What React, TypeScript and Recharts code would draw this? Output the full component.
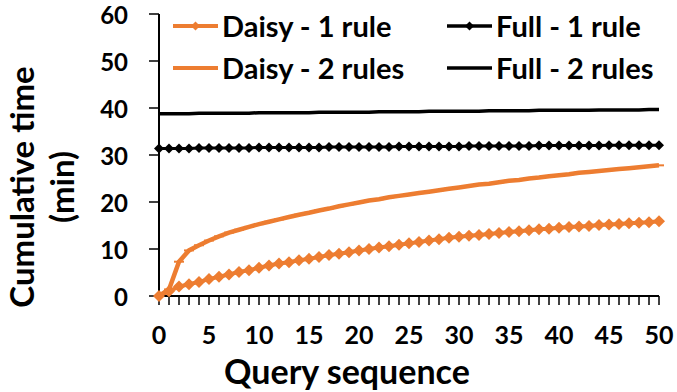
import { LineChart, Line, XAxis, YAxis, Label } from 'recharts'

const ORANGE = '#ED7D31'
const FONT = 'Lato, "Open Sans", sans-serif'

const queries = [
  0, 1, 2, 3, 4, 5, 6, 7, 8, 9, 10, 11, 12, 13, 14, 15, 16, 17, 18, 19, 20, 21, 22, 23, 24, 25,
  26, 27, 28, 29, 30, 31, 32, 33, 34, 35, 36, 37, 38, 39, 40, 41, 42, 43, 44, 45, 46, 47, 48, 49, 50
]

const daisy1 = [
  0, 1.0, 2.0, 2.5, 3.0, 3.6, 4.1, 4.6, 5.1, 5.5, 6.0, 6.5, 6.9, 7.2, 7.6, 7.9, 8.3, 8.7, 9.0, 9.3,
  9.7, 10.0, 10.3, 10.6, 10.9, 11.2, 11.5, 11.8, 12.1, 12.4, 12.6, 12.8, 13.0, 13.2, 13.4, 13.6,
  13.8, 14.0, 14.2, 14.3, 14.5, 14.7, 14.8, 14.9, 15.1, 15.2, 15.3, 15.5, 15.6, 15.7, 15.9
]

const daisy2 = [
  0, 1.4, 7.3, 9.7, 10.8, 11.8, 12.7, 13.5, 14.1, 14.7, 15.3, 15.8, 16.3, 16.8, 17.3, 17.7, 18.2,
  18.6, 19.1, 19.5, 19.9, 20.3, 20.6, 21.0, 21.3, 21.6, 21.9, 22.2, 22.5, 22.8, 23.1, 23.4, 23.7,
  23.9, 24.2, 24.5, 24.7, 25.0, 25.2, 25.5, 25.7, 25.9, 26.2, 26.4, 26.6, 26.8, 27.0, 27.2, 27.4,
  27.6, 27.8
]

const full1 = [
  31.4, 31.4, 31.4, 31.4, 31.5, 31.5, 31.5, 31.5, 31.5, 31.5, 31.6, 31.6, 31.6, 31.6, 31.6, 31.6,
  31.6, 31.7, 31.7, 31.7, 31.7, 31.7, 31.7, 31.7, 31.8, 31.8, 31.8, 31.8, 31.8, 31.8, 31.8, 31.9,
  31.9, 31.9, 31.9, 31.9, 31.9, 31.9, 32.0, 32.0, 32.0, 32.0, 32.0, 32.0, 32.0, 32.1, 32.1, 32.1,
  32.1, 32.1, 32.1
]

const full2 = [
  38.8, 38.8, 38.8, 38.8, 38.9, 38.9, 38.9, 38.9, 38.9, 38.9, 39.0, 39.0, 39.0, 39.0, 39.0, 39.0,
  39.1, 39.1, 39.1, 39.1, 39.1, 39.1, 39.2, 39.2, 39.2, 39.2, 39.2, 39.3, 39.3, 39.3, 39.3, 39.3,
  39.3, 39.4, 39.4, 39.4, 39.4, 39.4, 39.5, 39.5, 39.5, 39.5, 39.5, 39.5, 39.6, 39.6, 39.6, 39.6,
  39.6, 39.7, 39.7
]

const yTicks = [0, 10, 20, 30, 40, 50, 60]

const data = queries.map((q, i) => ({
  q,
  daisy1: daisy1[i],
  daisy2: daisy2[i],
  full1: full1[i],
  full2: full2[i]
}))

const legendItems = [
  { name: 'Daisy - 1 rule', color: ORANGE, marker: true },
  { name: 'Full - 1 rule', color: '#000', marker: true },
  { name: 'Daisy - 2 rules', color: ORANGE, marker: false },
  { name: 'Full - 2 rules', color: '#000', marker: false }
]

function diamond(size: number, color: string) {
  return (props: any) => {
    const { cx, cy, index } = props
    if (cx == null || cy == null) return <g key={index} />
    const s = size
    return (
      <polygon
        key={index}
        points={`${cx},${cy - s} ${cx + s},${cy} ${cx},${cy + s} ${cx - s},${cy}`}
        fill={color}
      />
    )
  }
}

function dashDot(props: any) {
  const { cx, cy, index } = props
  if (cx == null || cy == null) return <g key={index} />
  return <line key={index} x1={cx - 5} x2={cx + 5} y1={cy} y2={cy} stroke={ORANGE} strokeWidth={2} />
}

function XTick(props: any) {
  const { x, y, payload } = props
  if (payload.value % 5 !== 0) return <g />
  return (
    <text x={x} y={y} dy={33} textAnchor="middle" fontFamily={FONT} fontWeight={700} fontSize={25} fill="#000">
      {payload.value}
    </text>
  )
}

function YTick(props: any) {
  const { x, y, payload } = props
  return (
    <text x={x} y={y} dy={10} textAnchor="end" fontFamily={FONT} fontWeight={700} fontSize={24} fill="#000">
      {payload.value}
    </text>
  )
}

function YLabel(props: any) {
  const vb = props.viewBox
  const cy = vb.y + vb.height / 2 + 32
  return (
    <text transform="rotate(-90)" fontFamily={FONT} fontWeight={700} fontSize={33} fill="#000" textAnchor="middle">
      <tspan x={-cy} y={34}>Cumulative time</tspan>
      <tspan x={-cy} y={74}>(min)</tspan>
    </text>
  )
}

function LegendBox() {
  return (
    <div
      style={{
        position: 'absolute',
        left: 172,
        top: 9,
        display: 'grid',
        gridTemplateColumns: '274px 230px',
        rowGap: 8,
        fontFamily: FONT,
        fontWeight: 700,
        fontSize: 29,
        lineHeight: '34px'
      }}
    >
      {legendItems.map((it) => (
        <div key={it.name} style={{ display: 'flex', alignItems: 'center', height: 34, whiteSpace: 'nowrap' }}>
          <svg width={47} height={14} style={{ marginRight: 3 }}>
            <line x1={1} x2={46} y1={7} y2={7} stroke={it.color} strokeWidth={it.color === ORANGE ? 4 : 3.5} />
            {it.marker && <polygon points="23.5,2.5 28,7 23.5,11.5 19,7" fill={it.color} />}
          </svg>
          <span style={{ color: '#000' }}>{it.name}</span>
        </div>
      ))}
    </div>
  )
}

export default function App() {
  return (
    <div style={{ position: 'absolute', left: 0, top: 0, width: 677, height: 392, background: '#fff' }}>
      <LineChart width={677} height={392} data={data} margin={{ top: 14, right: 18, left: 0, bottom: 0 }}>
        <XAxis
          dataKey="q"
          type="number"
          domain={[0, 50]}
          ticks={queries}
          interval={0}
          tick={<XTick />}
          tickSize={9}
          tickMargin={6}
          height={96}
          axisLine={{ stroke: '#000', strokeWidth: 2 }}
          tickLine={{ stroke: '#000', strokeWidth: 1.5 }}
        >
          <Label
            value="Query sequence"
            position="insideBottom"
            offset={8}
            dx={-62}
            style={{ fontFamily: FONT, fontWeight: 700, fontSize: 34, fill: '#000' }}
          />
        </XAxis>
        <YAxis
          domain={[0, 60]}
          ticks={yTicks}
          interval={0}
          width={159}
          tickSize={10}
          tickMargin={21}
          axisLine={{ stroke: '#000', strokeWidth: 2 }}
          tickLine={{ stroke: '#000', strokeWidth: 1.5 }}
          tick={<YTick />}
        >
          <Label content={<YLabel />} />
        </YAxis>
        <Line dataKey="full2" stroke="#000" strokeWidth={3.5} dot={false} isAnimationActive={false} />
        <Line dataKey="full1" stroke="#000" strokeWidth={3} dot={diamond(5, '#000')} isAnimationActive={false} />
        <Line dataKey="daisy2" stroke={ORANGE} strokeWidth={4.5} dot={dashDot} isAnimationActive={false} />
        <Line dataKey="daisy1" stroke={ORANGE} strokeWidth={4} dot={diamond(6, ORANGE)} isAnimationActive={false} />
      </LineChart>
      <LegendBox />
    </div>
  )
}
